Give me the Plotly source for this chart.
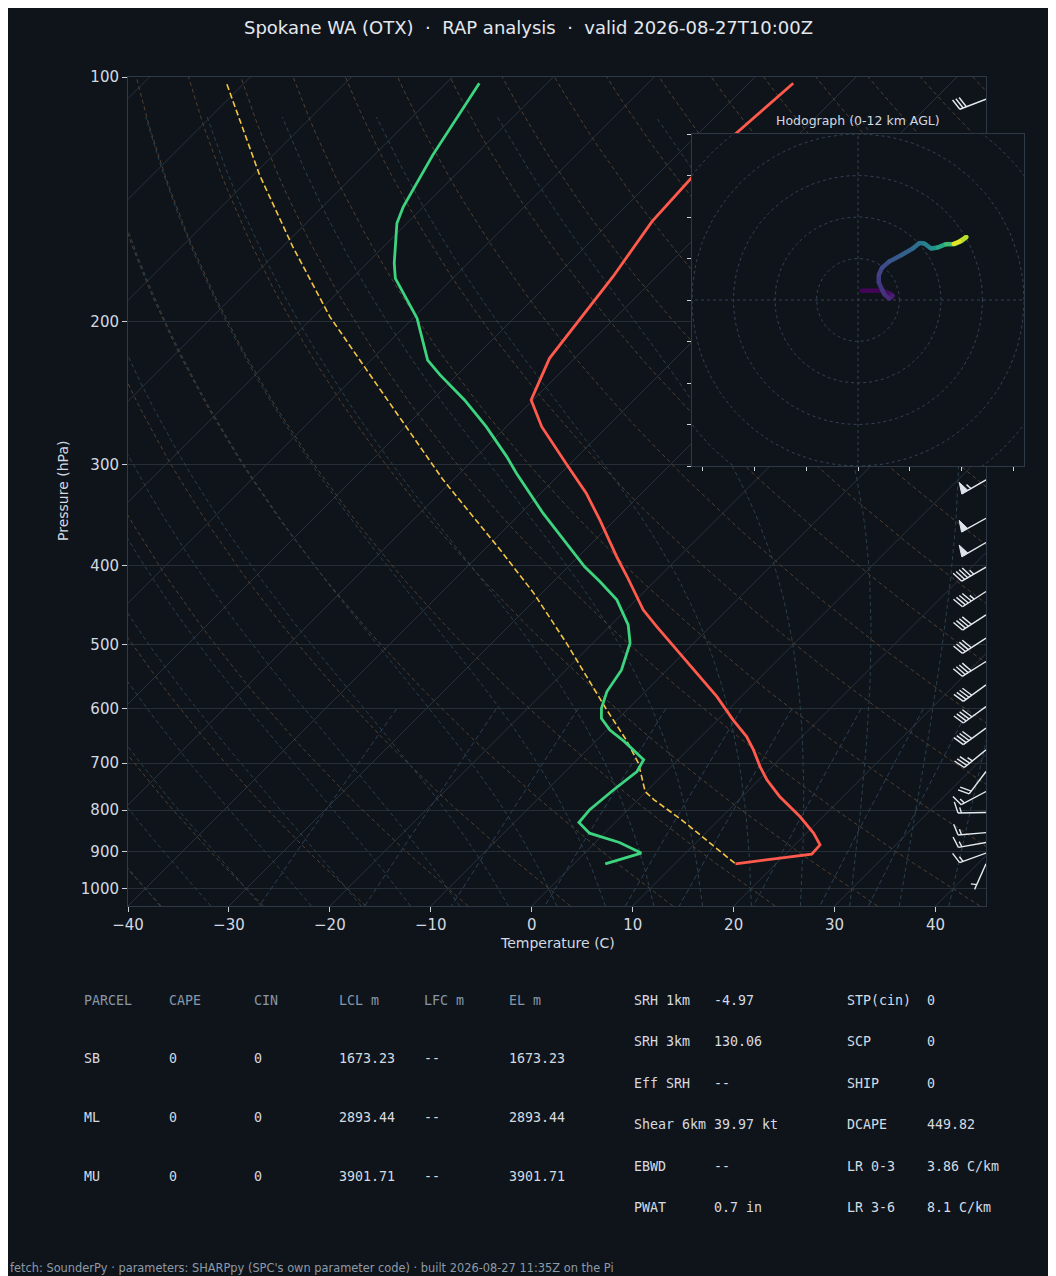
import numpy as np
import plotly.graph_objects as go
from plotly.colors import sample_colorscale

# ---------------- text ----------------
TITLE = "Spokane WA (OTX)  \u00b7  RAP analysis  \u00b7  valid 2026-08-27T10:00Z"
FOOTER = "fetch: SounderPy \u00b7 parameters: SHARPpy (SPC's own parameter code) \u00b7 built 2026-08-27 11:35Z on the Pi"
HODO_TITLE = "Hodograph (0-12 km AGL)"

# ---------------- sounding data ----------------
T_P = [101.8, 117.3, 133.3, 150.7, 176.2, 201.1, 222.1, 249.9, 269.6, 300.5, 325.6, 351.3,
       389.8, 412.4, 453.3, 475.3, 507.8, 547.8, 579.8, 619.3, 649.4, 674.4, 707.0, 734.2,
       769.6, 814.7, 854.0, 882.8, 906.4, 931.6]
T_C = [-55.6, -56.3, -56.3, -55.9, -54.3, -53.3, -52.5, -50.2, -46.5, -40.2, -35.5, -31.5,
       -26.2, -23.2, -18.3, -15.3, -11.0, -6.1, -2.4, 1.5, 4.5, 6.5, 8.8, 10.8,
       13.7, 17.7, 20.7, 22.5, 22.6, 16.0]

TD_P = [101.8, 124.8, 144.5, 151.4, 169.6, 177.0, 198.2, 223.2, 232.8, 249.9, 269.6, 293.5,
        307.6, 344.6, 401.0, 418.3, 440.6, 473.0, 498.2, 537.5, 571.5, 599.0, 616.5, 637.3,
        658.7, 693.5, 717.0, 755.1, 799.0, 828.6, 854.0, 877.0, 903.6, 931.6]
TD_C = [-86.7, -84.2, -82.0, -81.0, -77.3, -75.7, -69.6, -64.4, -61.7, -56.8, -52.0, -47.0,
        -44.4, -37.8, -28.4, -25.4, -21.9, -18.3, -16.3, -14.5, -13.8, -12.7, -11.7, -9.7,
        -7.1, -3.4, -2.9, -3.4, -3.8, -3.6, -1.5, 2.4, 5.6, 3.1]

PCL_P = [102.1, 132.0, 161.8, 197.3, 236.1, 313.5, 382.4, 432.3, 498.2, 547.8, 602.0, 655.5,
         700.0, 759.0, 777.0, 822.2, 878.5, 931.6]
PCL_C = [-111.6, -99.4, -89.0, -78.4, -67.8, -51.0, -38.4, -30.8, -22.6, -17.3, -12.0, -7.1,
         -3.6, -0.1, 1.6, 6.3, 11.4, 16.0]

# wind barbs (pressure hPa, direction deg, speed kt)
BARB_P = [106.5, 313.5, 349.6, 374.5, 401.6, 430.3, 459.7, 491.2, 524.8, 560.9, 596.3,
          634.1, 674.4, 717.0, 759.0, 805.4, 852.6, 877.0, 903.6, 931.6]
BARB_DIR = [249, 240, 241, 240, 240, 237, 237, 237, 238, 234, 234,
            234, 231, 217, 242, 269, 265, 260, 250, 204]
BARB_KT = [30, 55, 50, 50, 45, 45, 40, 40, 40, 40, 40,
           40, 35, 20, 15, 15, 15, 15, 15, 5]

# hodograph (kt) and height AGL (km)
HODO_U = [1.6, 12.0, 15.5, 16.8, 15.0, 12.5, 10.0, 10.0, 11.5, 15.0, 20.8, 26.4, 29.6,
          32.0, 35.2, 38.4, 42.4, 46.4, 50.0, 52.3, 49.0, 46.0]
HODO_V = [4.5, 4.5, 3.0, 2.0, 0.6, 3.0, 8.5, 12.0, 15.5, 18.5, 21.6, 24.8, 27.5,
          27.2, 24.8, 25.3, 26.9, 26.9, 28.5, 30.4, 28.2, 27.0]
HODO_Z = [0.0, 0.25, 0.5, 0.75, 1.3, 1.7, 2.0, 2.3, 2.6, 3.0, 3.5, 4.0, 4.5,
          5.0, 5.8, 6.5, 7.8, 8.8, 9.6, 10.3, 11.2, 12.0]

X_TICKS = [-40, -30, -20, -10, 0, 10, 20, 30, 40]
P_TICKS = [100, 200, 300, 400, 500, 600, 700, 800, 900, 1000]
RING_KT = [20, 40, 60, 80, 100, 120, 140]
HODO_XT = [-75, -50, -25, 0, 25, 50, 75]
HODO_YT = [-80, -60, -40, -20, 0, 20, 40, 60, 80]

TABLE_HEAD = ["PARCEL", "CAPE", "CIN", "LCL m", "LFC m", "EL m"]
TABLE_ROWS = [["SB", "0", "0", "1673.23", "--", "1673.23"],
              ["ML", "0", "0", "2893.44", "--", "2893.44"],
              ["MU", "0", "0", "3901.71", "--", "3901.71"]]
PARAM_L = [("SRH 1km", "-4.97"), ("SRH 3km", "130.06"), ("Eff SRH", "--"),
           ("Shear 6km", "39.97 kt"), ("EBWD", "--"), ("PWAT", "0.7 in")]
PARAM_R = [("STP(cin)", "0"), ("SCP", "0"), ("SHIP", "0"),
           ("DCAPE", "449.82"), ("LR 0-3", "3.86 C/km"), ("LR 3-6", "8.1 C/km")]

# ---------------- geometry / style ----------------
OFF = 8                      # page body margin
W, H = 1056 - 2 * OFF, 1276 - OFF
X0, X1, Y0, Y1 = 128, 986, 77, 906
T_MIN, T_MAX = -40, 45
P_BOT, P_TOP = 1050.0, 100.0
DEC = np.log10(P_BOT / P_TOP)
K = ((Y1 - Y0) / DEC) / ((X1 - X0) / (T_MAX - T_MIN))   # skew: 45 deg isotherms
HX0, HX1, HY0, HY1 = 692, 1024, 134, 466
HR = 80

BG = "#0f141b"
SPINE = "#2e3947"
TXT = "#d3d9e0"
GRID = "#262e38"


def fx(px):
    return (px - OFF) / W


def fy(py):
    return 1 - (py - OFF) / H


def skx(t, p):
    return np.asarray(t, float) + K * np.log10(P_BOT / np.asarray(p, float))


fig = go.Figure()


def add_line(x, y, color, width, dash=None, xa="x", ya="y", mode="lines", **kw):
    fig.add_trace(go.Scatter(x=x, y=y, mode=mode, xaxis=xa, yaxis=ya,
                             line=dict(color=color, width=width, dash=dash),
                             hoverinfo="skip", showlegend=False, **kw))


# isotherms
ix, iy = [], []
for t in range(-130, 41, 10):
    ix += [float(skx(t, P_BOT)), float(skx(t, P_TOP)), None]
    iy += [P_BOT, P_TOP, None]
add_line(ix, iy, "#2a323e", 1)

# dry adiabats
pl = np.geomspace(P_BOT, P_TOP, 60)
dx, dy = [], []
for t0 in range(-40, 201, 10):
    tt = (t0 + 273.15) * (pl / 1000.0) ** 0.2857 - 273.15
    dx += list(skx(tt, pl)) + [None]
    dy += list(pl) + [None]
add_line(dx, dy, "#4f3f30", 1, dash="4px,3px")

# moist adiabats (pseudo-adiabatic integration)
Rd, Cp, Lv, EPS = 287.04, 1005.7, 2.501e6, 0.622


def dTdp(p, T):
    tc = T - 273.15
    es = 6.112 * np.exp(17.67 * tc / (tc + 243.5))
    rs = EPS * es / (p - es)
    return (Rd * T + Lv * rs) / (p * (Cp + Lv * Lv * rs * EPS / (Rd * T * T)))


def integ(T0, p0, p1, n):
    ps = np.linspace(p0, p1, n + 1)
    h = ps[1] - ps[0]
    T = np.array(T0, float)
    out = [T.copy()]
    for i in range(n):
        p = ps[i]
        k1 = dTdp(p, T)
        k2 = dTdp(p + h / 2, T + h * k1 / 2)
        k3 = dTdp(p + h / 2, T + h * k2 / 2)
        k4 = dTdp(p + h, T + h * k3)
        T = T + h * (k1 + 2 * k2 + 2 * k3 + k4) / 6
        out.append(T.copy())
    return ps, np.array(out)


m_t0 = np.arange(-50, 41, 5) + 273.15
pd_, Td_ = integ(m_t0, 1000.0, P_BOT, 10)
pu_, Tu_ = integ(m_t0, 1000.0, P_TOP, 300)
mp = np.concatenate([pd_[::-1], pu_[1:]])
mT = np.concatenate([Td_[::-1], Tu_[1:]], axis=0)
mx, my = [], []
for j in range(len(m_t0)):
    mx += list(skx(mT[::6, j] - 273.15, mp[::6])) + [None]
    my += list(mp[::6]) + [None]
add_line(mx, my, "#29404b", 1, dash="4px,3px")

# mixing ratio lines
MIXR = [0.0004, 0.001, 0.002, 0.004, 0.007, 0.01, 0.016, 0.024, 0.032]
pw = np.linspace(600, P_BOT, 20)
wx, wy = [], []
for w in MIXR:
    e = pw * w / (EPS + w)
    ln = np.log(e / 6.112)
    tdw = 243.5 * ln / (17.67 - ln)
    wx += list(skx(tdw, pw)) + [None]
    wy += list(pw) + [None]
add_line(wx, wy, "#2b3f55", 1, dash="5px,3px")

# parcel, dewpoint, temperature
add_line(list(skx(PCL_C, PCL_P)), PCL_P, "#f4c542", 1.6, dash="6px,3px")
add_line(list(skx(TD_C, TD_P)), TD_P, "#3dd47f", 2.8)
add_line(list(skx(T_C, T_P)), T_P, "#ff5a4c", 2.8)

# wind barbs
BL = 28.0
PXX = (T_MAX - T_MIN) / (X1 - X0)
PXY = DEC / (Y1 - Y0)


def barb_geom(speed, direction):
    spd = int(5 * round(speed / 5.0))
    nflag = spd // 50
    rem = spd - 50 * nflag
    nfull = rem // 10
    half = (rem - 10 * nfull) >= 5
    hh, wd, sp = 0.4 * BL, 0.25 * BL, 0.125 * BL
    th = np.radians(direction)
    d = np.array([np.sin(th), np.cos(th)])
    b = np.array([d[1], -d[0]])

    def pt(s, h):
        return s * d + h * b
    lines = [[pt(0, 0), pt(BL, 0)]]
    flags = []
    off = BL
    for _ in range(nflag):
        if off != BL:
            off += sp / 2
        flags.append([pt(off, 0), pt(off - wd / 2, hh), pt(off - wd, 0)])
        off -= wd + sp
    for _ in range(nfull):
        lines.append([pt(off, 0), pt(off + wd / 2, hh)])
        off -= sp
    if half:
        if off == BL:
            off -= 1.5 * sp
        lines.append([pt(off, 0), pt(off + wd / 4, hh / 2)])
    return lines, flags


blx, bly, flx, fly = [], [], [], []
for p0, dd, ss in zip(BARB_P, BARB_DIR, BARB_KT):
    lines, flags = barb_geom(ss, dd)
    lp = np.log10(p0)
    for seg in lines:
        for q in seg:
            blx.append(T_MAX + q[0] * PXX)
            bly.append(10 ** (lp - q[1] * PXY))
        blx.append(None)
        bly.append(None)
    for poly in flags:
        for q in poly + [poly[0]]:
            flx.append(T_MAX + q[0] * PXX)
            fly.append(10 ** (lp - q[1] * PXY))
        flx.append(None)
        fly.append(None)
add_line(blx, bly, "#e6ebf0", 1.4)
fig.add_trace(go.Scatter(x=flx, y=fly, mode="lines", fill="toself", fillcolor="#dde4ec",
                         line=dict(color="#dde4ec", width=1), hoverinfo="skip", showlegend=False))

# ---------------- hodograph inset ----------------
ang = np.linspace(0, 2 * np.pi, 181)
rx, ry = [], []
for r in RING_KT:
    rx += list(r * np.cos(ang)) + [None]
    ry += list(r * np.sin(ang)) + [None]
rx += [0, 0, None, -200, 200]
ry += [-200, 200, None, 0, 0]
add_line(rx, ry, "#344152", 1, dash="3px,3px", xa="x2", ya="y2")

zn = [(HODO_Z[i] + HODO_Z[i + 1]) / 2 / 12.0 for i in range(len(HODO_Z) - 1)]
cols = sample_colorscale("Viridis", zn)
for i in range(len(HODO_U) - 1):
    fig.add_trace(go.Scatter(x=[HODO_U[i], HODO_U[i + 1]], y=[HODO_V[i], HODO_V[i + 1]],
                             mode="lines+markers", xaxis="x2", yaxis="y2",
                             line=dict(color=cols[i], width=4.5),
                             marker=dict(color=cols[i], size=4),
                             hoverinfo="skip", showlegend=False))

# ---------------- layout ----------------
tfont = dict(family="DejaVu Sans", size=15, color=TXT)
common = dict(automargin=False, zeroline=False, showline=True, mirror=True,
              linecolor=SPINE, linewidth=1, ticks="outside", tickwidth=1,
              tickcolor="#c9d1d9", fixedrange=True)
fig.update_layout(
    width=W, height=H, autosize=False,
    margin=dict(l=0, r=0, t=0, b=0, pad=0, autoexpand=False),
    paper_bgcolor=BG, plot_bgcolor=BG, showlegend=False,
    font=dict(family="DejaVu Sans", color=TXT),
    xaxis=dict(domain=[fx(X0), fx(X1)], range=[T_MIN, T_MAX], anchor="y",
               showgrid=False, ticklen=5, tickvals=X_TICKS,
               ticktext=[("\u2212" + str(-v)) if v < 0 else str(v) for v in X_TICKS],
               tickfont=tfont, **common),
    yaxis=dict(domain=[fy(Y1), fy(Y0)], type="log", range=[np.log10(P_BOT), np.log10(P_TOP)],
               anchor="x", showgrid=True, gridcolor=GRID, gridwidth=1, ticklen=5,
               tickvals=P_TICKS, ticktext=[str(v) for v in P_TICKS], tickfont=tfont,
               **common),
    xaxis2=dict(domain=[fx(HX0), fx(HX1)], range=[-HR, HR], anchor="y2",
                showgrid=False, ticklen=4, tickvals=HODO_XT, showticklabels=False, **common),
    yaxis2=dict(domain=[fy(HY1), fy(HY0)], range=[-HR, HR], anchor="x2",
                showgrid=False, ticklen=4, tickvals=HODO_YT, showticklabels=False, **common),
)

ann = []


def text(px, py, s, size, color=TXT, family="DejaVu Sans", xanchor="left", angle=0):
    if xanchor == "left":
        px -= 2
    ann.append(dict(x=fx(px), y=fy(py), xref="paper", yref="paper", text=s, showarrow=False,
                    xanchor=xanchor, yanchor="middle", textangle=angle,
                    font=dict(family=family, size=size, color=color)))


text(528, 27, TITLE, 18, "#e3e8ee", xanchor="center")
text(557, 943, "Temperature (C)", 14, TXT, xanchor="center")
text(63, 491, "Pressure (hPa)", 14, TXT, xanchor="center", angle=-90)
text(858, 120, HODO_TITLE, 12.5, TXT, xanchor="center")

MONO = "DejaVu Sans Mono"
COLX = [84, 169, 254, 339, 424, 509]
ROWY = [1000, 1058, 1117, 1176]
for cx, hname in zip(COLX, TABLE_HEAD):
    text(cx, ROWY[0], hname, 13.3, "#8797aa", MONO)
for ry, row in zip(ROWY[1:], TABLE_ROWS):
    for cx, val in zip(COLX, row):
        text(cx, ry, val, 13.3, "#d5dbe1", MONO)
PROWY = [1000, 1041.5, 1083, 1124.3, 1166, 1207.3]
for ry, (a, b), (c, d) in zip(PROWY, PARAM_L, PARAM_R):
    text(634, ry, a, 13.3, "#d5dbe1", MONO)
    text(714, ry, b, 13.3, "#d5dbe1", MONO)
    text(847, ry, c, 13.3, "#d5dbe1", MONO)
    text(927, ry, d, 13.3, "#d5dbe1", MONO)

text(10, 1268, FOOTER, 11.4, "#8e9aa6")
fig.update_layout(annotations=ann)

fig.write_html("out.html", config={"displayModeBar": False})
